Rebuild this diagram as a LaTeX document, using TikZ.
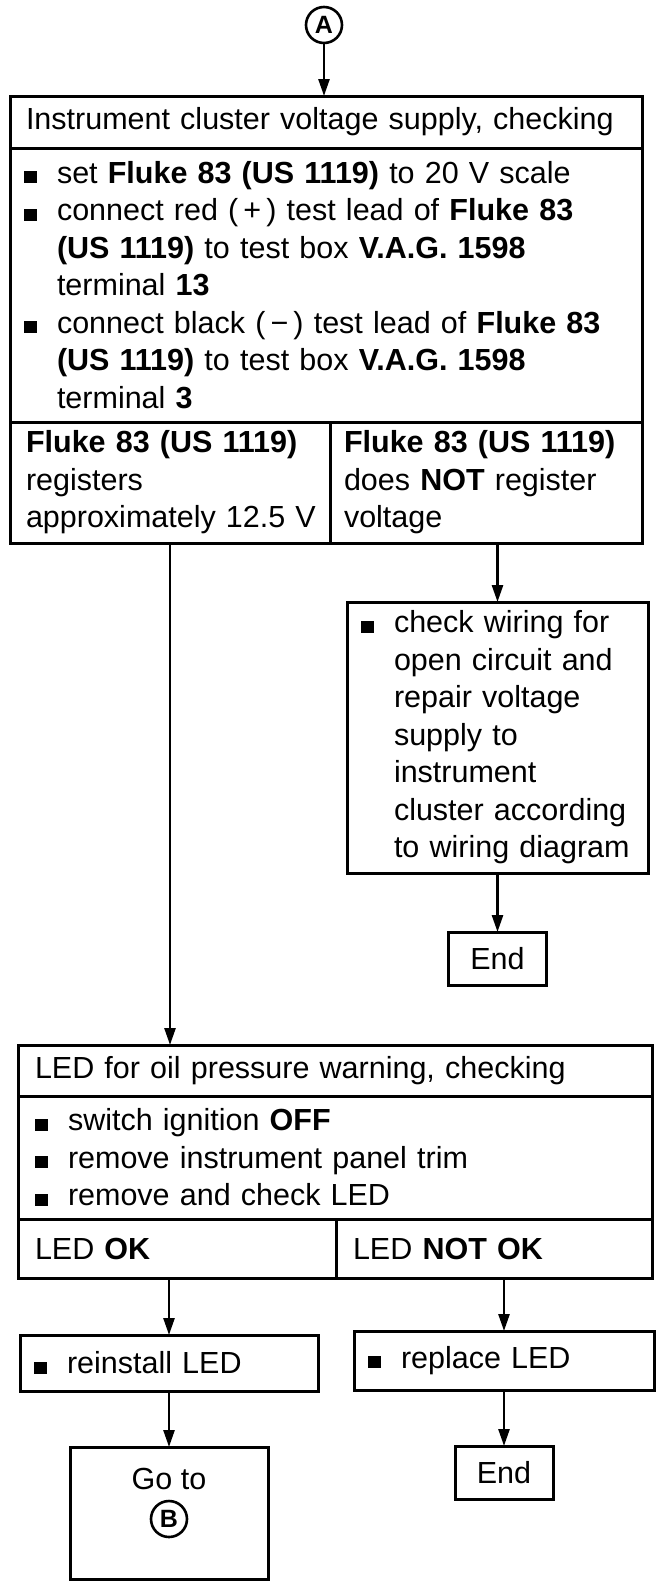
\documentclass[tikz,border=0pt]{standalone}
\usepackage{fontspec}
\setmainfont{Liberation Sans}
\usetikzlibrary{positioning,arrows.meta}
\newcommand{\bodysize}{\fontsize{30.5}{37.5}\selectfont}
\newcommand{\bulletsq}{\makebox[33pt][l]{\rule{13pt}{12pt}}}
\newcommand{\contline}{\hspace*{33pt}}

\begin{document}
\begin{tikzpicture}[x=1pt, y=1pt, >={Triangle[length=17pt,width=11pt]}, every node/.style={font=\bodysize}, box/.style={draw, line width=3pt, outer sep=0pt, inner ysep=0pt, align=left}, endbox/.style={draw, line width=3pt, outer sep=0pt, inner sep=0pt, minimum width=98pt, minimum height=53pt}, conn/.style={draw, circle, line width=2.6pt, inner sep=0pt, minimum size=36pt, font=\fontsize{25}{25}\selectfont\bfseries}, flow/.style={->, line width=2.6pt}]
\useasboundingbox (0,0) rectangle (672,-1588);

% voltage supply check
\node[conn] (A) at (324,-25) {A};
\node[box, anchor=north west, text width=600pt, inner xsep=16pt, minimum height=52pt] (t1) at (10,-96) {Instrument cluster voltage supply, checking};
\node[box, below=0pt of t1.south west, anchor=north west, text width=604pt, inner xsep=14pt, minimum height=274pt] (s1) {\bulletsq set \textbf{Fluke 83 (US 1119)} to 20 V scale\\
\bulletsq connect red (\,+\,) test lead of \textbf{Fluke 83}\\
\contline\textbf{(US 1119)} to test box \textbf{V.A.G. 1598}\\
\contline terminal \textbf{13}\\
\bulletsq connect black (\,−\,) test lead of \textbf{Fluke 83}\\
\contline\textbf{(US 1119)} to test box \textbf{V.A.G. 1598}\\
\contline terminal \textbf{3}};
\node[box, below=0pt of s1.south west, anchor=north west, text width=288pt, inner xsep=16pt, minimum height=121pt] (ok1) {\textbf{Fluke~83~(US~1119)}\\registers\\approximately~12.5~V};
\node[box, right=0pt of ok1.north east, anchor=north west, text width=284pt, inner xsep=14pt, minimum height=121pt] (nok1) {\textbf{Fluke~83~(US~1119)}\\does \textbf{NOT} register\\voltage};
\node[box, below right=59pt and 17pt of nok1.south west, text width=273pt, inner xsep=14pt, minimum height=271pt] (chk) {\bulletsq check wiring for\\
\contline open circuit and\\
\contline repair voltage\\
\contline supply to\\
\contline instrument\\
\contline cluster~according\\
\contline to~wiring~diagram};
\node[endbox, below=59pt of chk] (end1) {End};

% LED check
\node[box, below right=502pt and 8pt of ok1.south west, text width=600pt, inner xsep=17pt, minimum height=51pt] (t3) {LED for oil pressure warning, checking};
\node[box, below=0pt of t3.south west, anchor=north west, text width=600pt, inner xsep=17pt, minimum height=123pt] (s3) {\bulletsq switch ignition \textbf{OFF}\\
\bulletsq remove instrument panel trim\\
\bulletsq remove and check LED};
\node[box, below=0pt of s3.south west, anchor=north west, text width=284pt, inner xsep=17pt, minimum height=59pt] (ok3) {LED \textbf{OK}};
\node[box, right=0pt of ok3.north east, anchor=north west, text width=282pt, inner xsep=17pt, minimum height=59pt] (nok3) {LED \textbf{NOT OK}};
\node[box, below right=57pt and 2pt of ok3.south west, text width=270pt, inner xsep=14pt, minimum height=56pt] (rein) {\bulletsq reinstall LED};
\node[box, below right=53pt and 18pt of nok3.south west, text width=272pt, inner xsep=14pt, minimum height=59pt] (rep) {\bulletsq replace LED};
\node[box, below=56pt of rein, inner sep=0pt, minimum width=198pt, minimum height=132pt] (goto) {};
\node at ([yshift=-32pt]goto.north) (golbl) {Go to};
\node[conn] at ([yshift=-72pt]goto.north) (B) {B};
\node[endbox, below=56pt of rep] (end2) {End};

\draw[flow] (A) -- (A |- t1.north);
\draw[flow] (ok1) -- (ok1 |- t3.north);
\draw[flow] (nok1.south -| chk) -- (chk);
\draw[flow] (chk) -- (end1);
\draw[flow] (ok3.south -| rein) -- (rein);
\draw[flow] (nok3.south -| rep) -- (rep);
\draw[flow] (rein) -- (goto);
\draw[flow] (rep) -- (end2);
\end{tikzpicture}
\end{document}
